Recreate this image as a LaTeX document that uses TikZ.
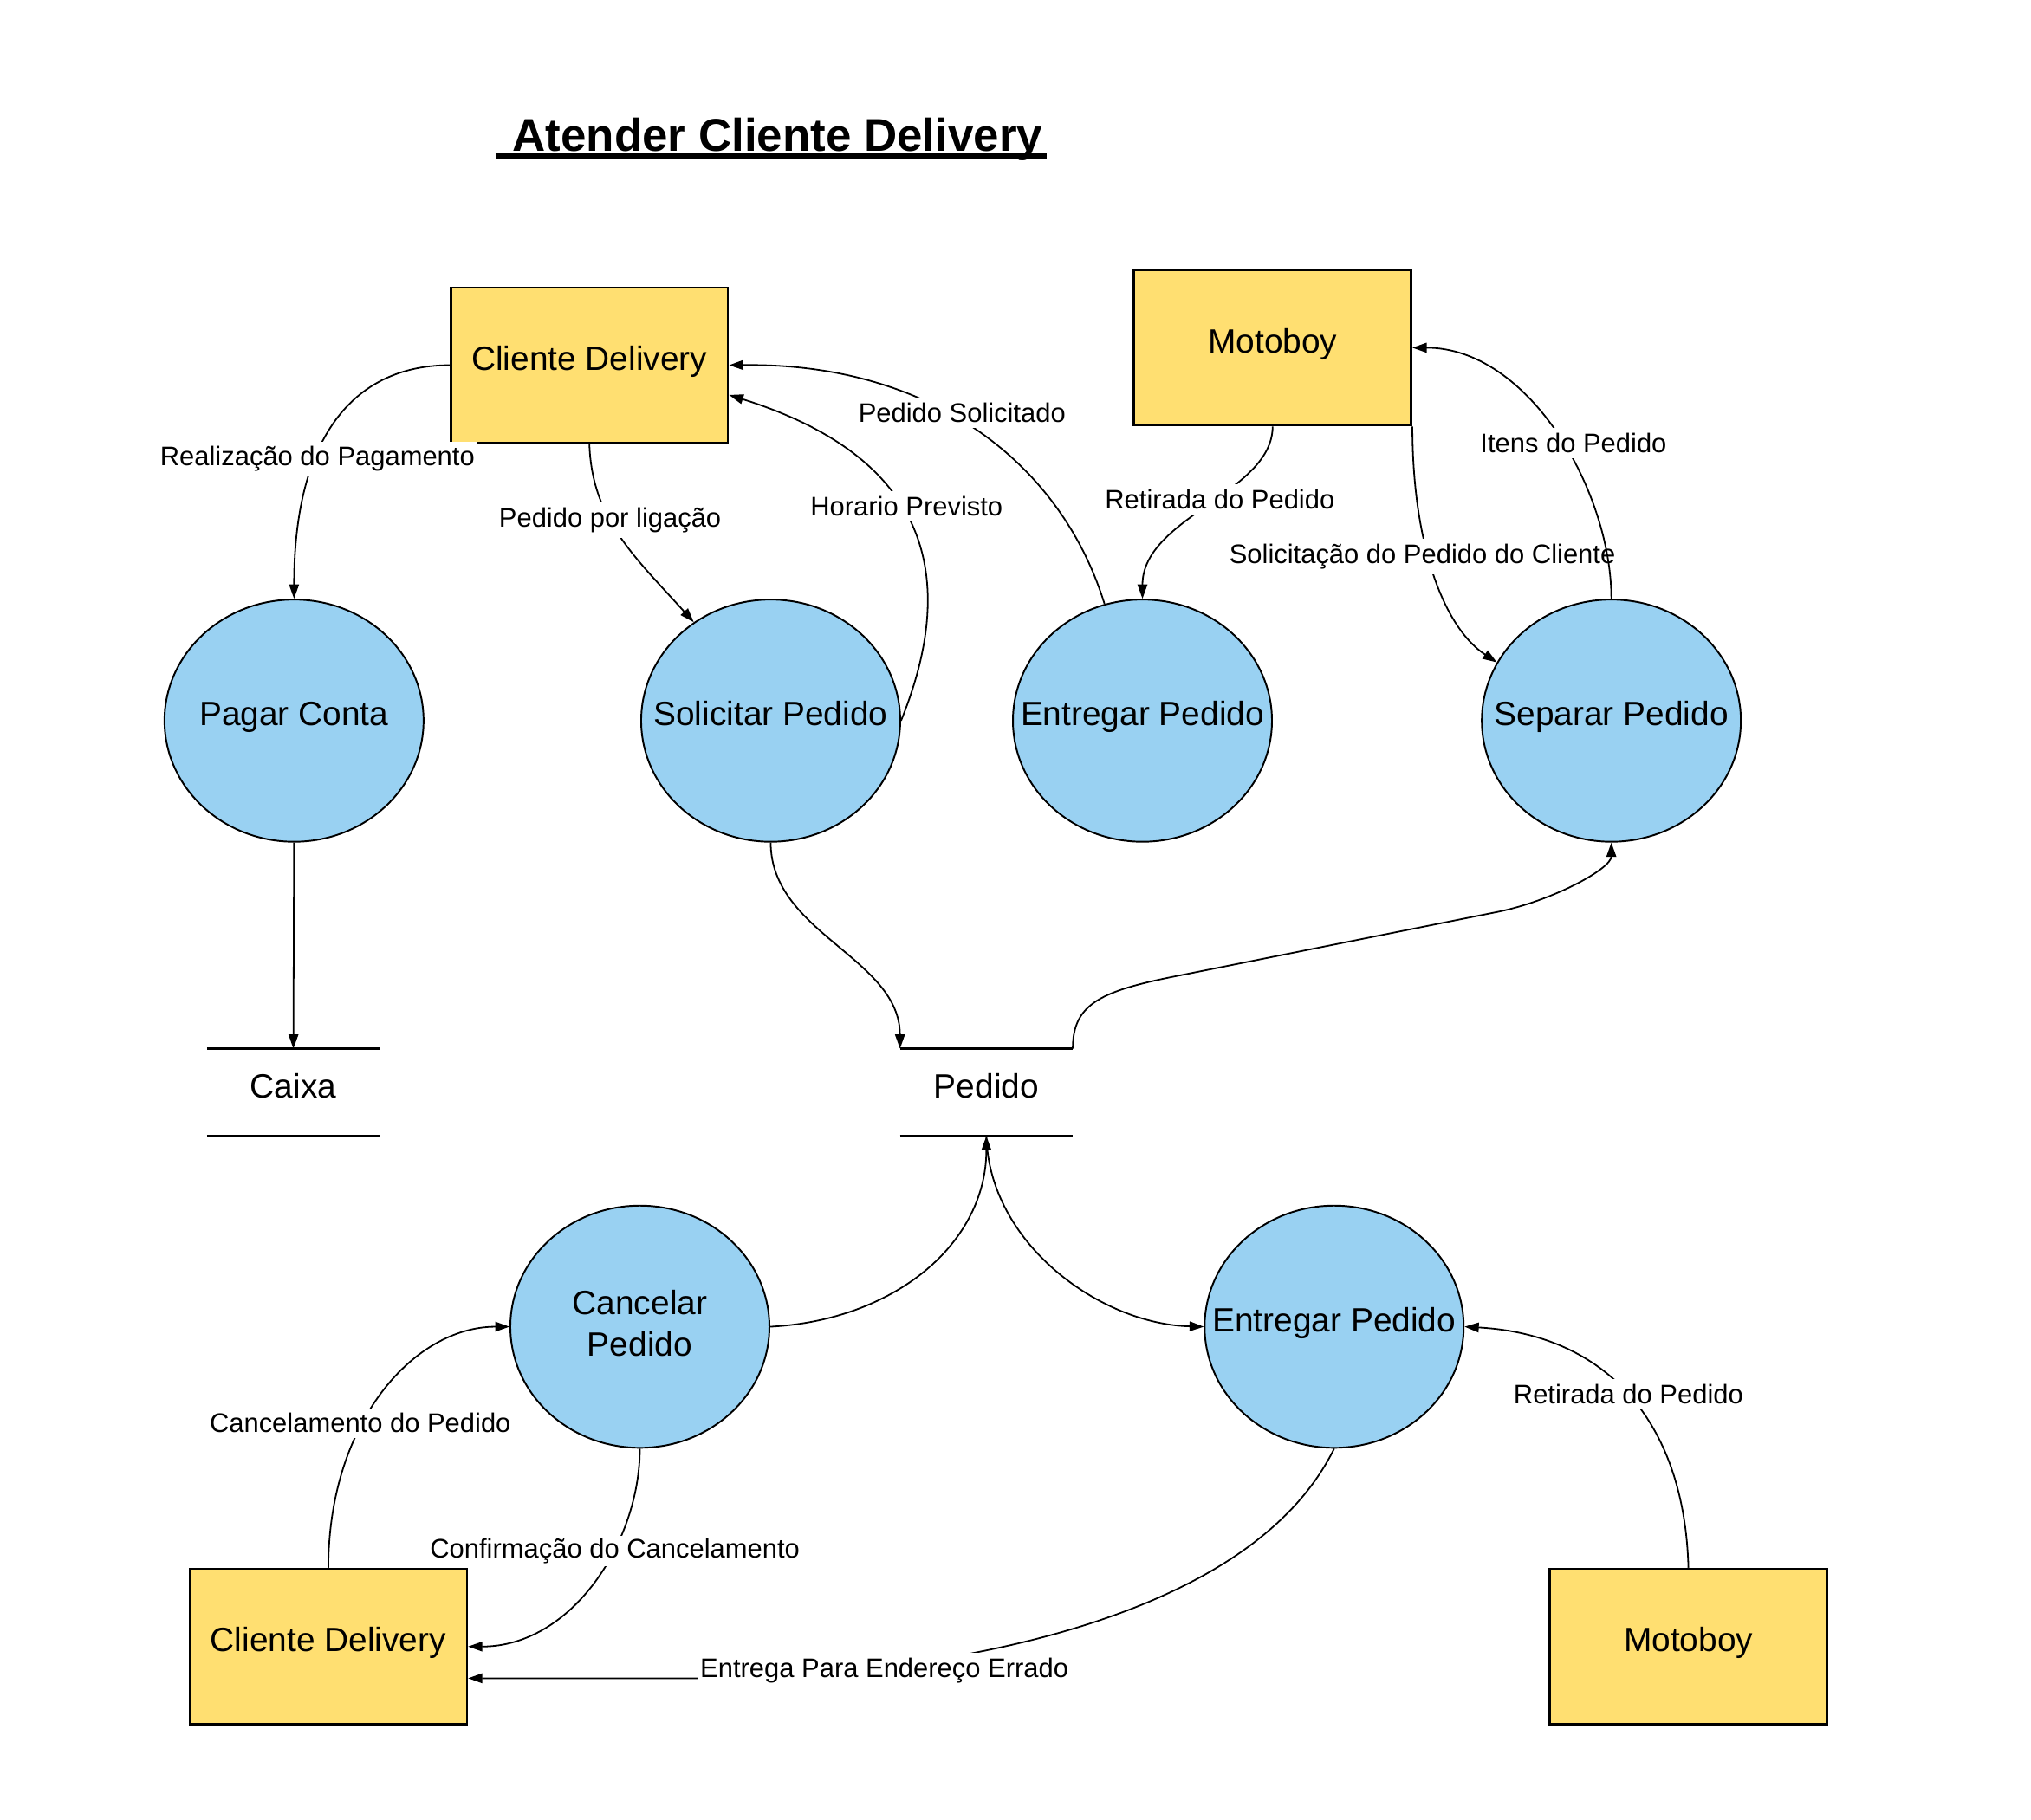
\documentclass[tikz,border=0pt]{standalone}
\usepackage{fontspec}
\setmainfont{Liberation Sans}
\usetikzlibrary{shapes.geometric,arrows.meta}
\definecolor{boxyellow}{HTML}{FFDF71}
\definecolor{procblue}{HTML}{99D1F2}
\begin{document}
\begin{tikzpicture}[x=1pt,y=1pt,
  ext/.style={draw=black, line width=1.8pt, fill=boxyellow, rectangle,
    minimum width=214pt, minimum height=120pt, inner sep=0pt,
    font=\fontsize{26}{32}\selectfont, text height=19pt, text depth=10.9pt},
  procbase/.style={draw=black, line width=1.3pt, fill=procblue, ellipse,
    minimum width=200pt, minimum height=187pt, inner sep=0pt,
    font=\fontsize{26}{32}\selectfont},
  proc/.style={procbase, text height=19pt, text depth=10.9pt},
  store/.style={rectangle, minimum width=133pt, minimum height=67pt, inner sep=0pt,
    font=\fontsize{26}{32}\selectfont, text height=19pt, text depth=10.9pt},
  storeline/.style={line width=1.5pt},
  flow/.style={line width=1.2pt, -{Triangle[length=11pt,width=7.5pt]}},
  lbl/.style={fill=white, inner xsep=2pt, inner ysep=4pt, text=black,
    font=\fontsize{20.7}{24}\selectfont}
]
\useasboundingbox (0,0) rectangle (1568,-1405);

% title
\node[anchor=base west, inner sep=0pt, font=\fontsize{35.4}{42}\selectfont\bfseries]
  (title) at (395.5,-116.6) {Atender Cliente Delivery};
\draw[line width=3.8pt] ([xshift=-13pt,yshift=-3.8pt]title.base west)
  -- ([xshift=3pt,yshift=-3.8pt]title.base east);

% external entities
\node[ext] (cd1) at (455,-282) {Cliente Delivery};
\node[ext] (mb1) at (982.5,-268.5) {Motoboy};
\node[ext] (cd2) at (253.5,-1271.5) {Cliente Delivery};
\node[ext] (mb2) at (1303.5,-1271.5) {Motoboy};

% processes
\node[proc] (pc) at (227,-556.5) {\makebox[0pt]{Pagar Conta}};
\node[proc] (sp) at (595,-556.5) {\makebox[0pt]{Solicitar Pedido}};
\node[proc] (ep1) at (882,-556.5) {\makebox[0pt]{Entregar Pedido}};
\node[proc] (sep) at (1244,-556.5) {\makebox[0pt]{Separar Pedido}};
\node[procbase, text width=120pt, align=center] (cp) at (494,-1024.5) {};
\node[inner sep=0pt, align=center, font=\fontsize{26}{32}\selectfont] (cpt) at (494,-1022) {Cancelar\\Pedido};
\node[proc] (ep2) at (1030,-1024.5) {\makebox[0pt]{Entregar Pedido}};

% data stores
\node[store] (cx) at (226.5,-843.5) {Caixa};
\node[store] (pd) at (761.5,-843.5) {Pedido};
\draw[storeline] (cx.north west) -- (cx.north east) (cx.south west) -- (cx.south east);
\draw[storeline] (pd.north west) -- (pd.north east) (pd.south west) -- (pd.south east);

% helper coordinates
\coordinate (k1) at (912,-753);
\coordinate (k2) at (1157,-704);
\coordinate (k3) at (540,-1296);

% flows
\draw[flow] (cd1.west) .. controls +(-70,0) and +(0,130) .. (pc.north)
  node[lbl,pos=0.64,yshift=-3pt] {Realização do Pagamento};
\draw[flow] (cd1.south) .. controls +(2,-58) and +(-46,51) .. (sp.128)
  node[lbl,pos=0.4] {Pedido por ligação};
\draw[flow] (sp.east) .. controls +(55,136) and +(128,-40) .. ([yshift=-23pt]cd1.east)
  node[lbl,pos=0.5,xshift=2pt,yshift=4pt] {Horario Previsto};
\draw[flow] (ep1.108) .. controls +(-33,107) and +(158,2) .. (cd1.east)
  node[lbl,pos=0.54,yshift=7pt] {Pedido Solicitado};
\draw[flow] (mb1.south) .. controls +(0,-51) and +(0,63) .. (ep1.north)
  node[lbl,pos=0.45,xshift=2pt] {Retirada do Pedido};
\draw[flow] (mb1.south east) .. controls +(0,-91) and +(-41,27) .. (sep.153)
  node[lbl,pos=0.41,xshift=-4pt,yshift=-3pt] {Solicitação do Pedido do Cliente};
\draw[flow] (sep.north) .. controls +(0,83) and +(90,0) .. (mb1.east)
  node[lbl,pos=0.45,xshift=6pt,yshift=4pt] {Itens do Pedido};
\draw[flow] (sp.south) .. controls +(0,-70) and +(0,70) .. (pd.north west);
\draw[flow] (pd.north east) .. controls +(0,35) and +(-62,-12) .. (k1) -- (k2)
  .. controls +(43,9) and +(0,-20) .. (sep.south);
\draw[flow] (pc.south) -- (cx.north);
\draw[flow] (cp.east) .. controls +(96,5) and +(0,-83) .. (pd.south);
\draw[flow] (pd.south) .. controls +(2,-83) and +(-80,2) .. (ep2.west);
\draw[flow] (cd2.north) .. controls +(0,112) and +(-74,0) .. (cp.west)
  node[lbl,pos=0.39,xshift=-2pt] {Cancelamento do Pedido};
\draw[flow] (cp.south) .. controls +(0,-72) and +(80,0) .. (cd2.east)
  node[lbl,pos=0.36,yshift=-2pt,inner ysep=2pt] {Confirmação do Cancelamento};
\draw[flow] (ep2.south) .. controls +(-70,-142) and +(160,0) .. (k3)
  node[lbl,pos=0.73,xshift=-3pt,yshift=-3pt] {Entrega Para Endereço Errado} -- ([yshift=-24.5pt]cd2.east);
\draw[flow] (mb2.north) .. controls +(-3,112) and +(110,-6) .. (ep2.east)
  node[lbl,pos=0.5,yshift=1pt] {Retirada do Pedido};
\end{tikzpicture}
\end{document}
